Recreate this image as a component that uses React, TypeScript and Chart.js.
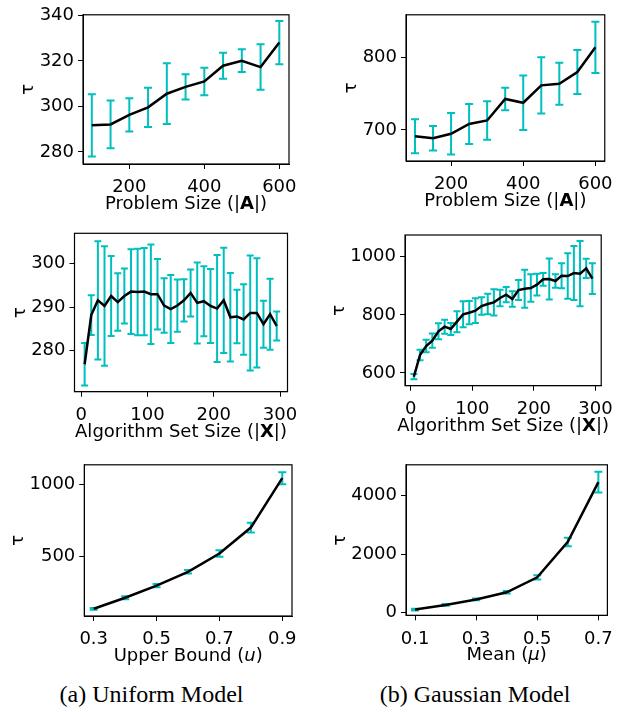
import React, { useEffect, useRef } from 'react';
import { Chart, registerables } from 'chart.js';

Chart.register(...registerables);

// ---------------- DATA ----------------
const problemSizes = [100, 150, 200, 250, 300, 350, 400, 450, 500, 550, 600];
const uniformSizeMean = [291.7, 292.1, 296.3, 299.6, 305.6, 308.6, 311.0, 317.9, 320.1, 317.3, 328.1];
const uniformSizeErr = [13.7, 10.5, 7.35, 8.6, 13.35, 5.55, 6.05, 5.75, 5.0, 10.0, 9.5];
const gaussSizeMean = [691.2, 688.6, 694.7, 708.3, 713.2, 743.0, 737.7, 761.8, 764.0, 780.3, 814.5];
const gaussSizeErr = [23.5, 16.9, 28.7, 27.85, 26.75, 15.55, 37.7, 39.0, 29.2, 30.5, 35.5];

const algoSetSizes = [5, 15, 25, 35, 45, 55, 65, 75, 85, 95, 105, 115, 125, 135, 145, 155, 165, 175, 185, 195, 205, 215, 225, 235, 245, 255, 265, 275, 285, 295];
const uniformAlgoMean = [276.9, 288.2, 291.6, 290.3, 292.6, 291.2, 292.6, 293.6, 293.5, 293.6, 293.0, 293.0, 290.4, 289.6, 290.4, 291.6, 293.3, 291.0, 291.4, 290.3, 289.7, 291.6, 287.7, 287.9, 287.2, 288.7, 288.7, 286.1, 288.4, 285.7];
const uniformAlgoErr = [4.9, 4.55, 13.6, 13.75, 9.2, 6.6, 6.3, 9.75, 9.95, 10.05, 11.45, 8.1, 6.25, 7.8, 6.0, 4.85, 5.4, 9.3, 8.05, 8.5, 12.3, 12.1, 10.15, 6.15, 8.1, 13.2, 12.55, 5.4, 8.15, 3.35];
const gaussAlgoMean = [587.4, 661.9, 692.8, 711.2, 743.3, 759.3, 751.3, 776.5, 801.7, 807.4, 814.3, 830.4, 837.3, 843.0, 857.9, 869.3, 854.4, 885.4, 890.0, 892.3, 903.7, 922.1, 923.2, 916.3, 934.7, 933.5, 943.8, 941.5, 959.9, 924.4];
const gaussAlgoErr = [9.2, 18.3, 21.2, 24.65, 27.5, 24.05, 20.6, 36.1, 44.7, 40.15, 42.4, 30.4, 35.55, 45.25, 28.65, 26.35, 26.4, 34.4, 65.35, 47.0, 37.25, 21.75, 70.5, 22.95, 42.95, 78.55, 92.85, 112.3, 33.25, 52.75];

const upperBounds = [0.3, 0.4, 0.5, 0.6, 0.7, 0.8, 0.9];
const uniformBoundMean = [134, 211, 295, 391, 518, 698, 1041];
const uniformBoundErr = [6, 11, 12, 12, 23, 34, 42];

const gaussMeans = [0.1, 0.2, 0.3, 0.4, 0.5, 0.6, 0.7];
const gaussMeanMean = [111, 267, 456, 700, 1211, 2422, 4467];
const gaussMeanErr = [30, 30, 30, 40, 72, 145, 355];

// tick labels
const sizeTicks = [200, 400, 600];
const algoTicks = [0, 100, 200, 300];
const boundTicks = [0.3, 0.5, 0.7, 0.9];
const meanTicks = [0.1, 0.3, 0.5, 0.7];
const uniformSizeYTicks = [280, 300, 320, 340];
const gaussSizeYTicks = [700, 800];
const uniformAlgoYTicks = [280, 290, 300];
const gaussAlgoYTicks = [600, 800, 1000];
const uniformBoundYTicks = [500, 1000];
const gaussMeanYTicks = [0, 2000, 4000];

const yLabel = 'τ';
const captionA = '(a) Uniform Model';
const captionB = '(b) Gaussian Model';

// ---------------- STYLE / LAYOUT ----------------
const FAMILY = "'DejaVu Sans', sans-serif";
const FS = 18;
const ERR_COLOR = '#00bfbf';
const TICK_LEN = 5;

type Seg = { t: string; s?: 'n' | 'b' | 'i' };
interface Panel {
  id: string;
  canvas: { x: number; y: number; w: number; h: number };
  area: { l: number; t: number; r: number; b: number };
  xs: number[];
  mean: number[];
  err: number[];
  xMin: number; xMax: number; yMin: number; yMax: number;
  xTicks: number[]; yTicks: number[];
  title: Seg[];
  yPad: number;
  cap: number;
}

const panels: Panel[] = [
  {
    id: 'p1', canvas: { x: 0, y: 0, w: 310, h: 215 }, area: { l: 83, t: 11, r: 289, b: 164 },
    xs: problemSizes, mean: uniformSizeMean, err: uniformSizeErr,
    xMin: 76.5, xMax: 625.8, yMin: 274.7, yMax: 340.3,
    xTicks: sizeTicks, yTicks: uniformSizeYTicks,
    title: [{ t: 'Problem Size (|' }, { t: 'A', s: 'b' }, { t: '|)' }], yPad: 4, cap: 4,
  },
  {
    id: 'p2', canvas: { x: 310, y: 0, w: 311, h: 215 }, area: { l: 406, t: 7, r: 612, b: 161 },
    xs: problemSizes, mean: gaussSizeMean, err: gaussSizeErr,
    xMin: 75.1, xMax: 626, yMin: 657, yMax: 859.6,
    xTicks: sizeTicks, yTicks: gaussSizeYTicks,
    title: [{ t: 'Problem Size (|' }, { t: 'A', s: 'b' }, { t: '|)' }], yPad: 4, cap: 4,
  },
  {
    id: 'p3', canvas: { x: 0, y: 215, w: 310, h: 235 }, area: { l: 74.5, t: 233.3, r: 287.5, b: 391.7 },
    xs: algoSetSizes, mean: uniformAlgoMean, err: uniformAlgoErr,
    xMin: -10.3, xMax: 311.3, yMin: 270.6, yMax: 307,
    xTicks: algoTicks, yTicks: uniformAlgoYTicks,
    title: [{ t: 'Algorithm Set Size (|' }, { t: 'X', s: 'b' }, { t: '|)' }], yPad: 4, cap: 3.5,
  },
  {
    id: 'p4', canvas: { x: 310, y: 215, w: 311, h: 235 }, area: { l: 405, t: 235, r: 607.7, b: 385.7 },
    xs: algoSetSizes, mean: gaussAlgoMean, err: gaussAlgoErr,
    xMin: -9.4, xMax: 309.4, yMin: 556.3, yMax: 1074.6,
    xTicks: algoTicks, yTicks: gaussAlgoYTicks,
    title: [{ t: 'Algorithm Set Size (|' }, { t: 'X', s: 'b' }, { t: '|)' }], yPad: 4, cap: 3.5,
  },
  {
    id: 'p5', canvas: { x: 0, y: 450, w: 310, h: 222 }, area: { l: 84.3, t: 462, r: 292, b: 616 },
    xs: upperBounds, mean: uniformBoundMean, err: uniformBoundErr,
    xMin: 0.27, xMax: 0.931, yMin: 84, yMax: 1134,
    xTicks: boundTicks, yTicks: uniformBoundYTicks,
    title: [{ t: 'Upper Bound (' }, { t: 'u', s: 'i' }, { t: ')' }], yPad: 4, cap: 4,
  },
  {
    id: 'p6', canvas: { x: 310, y: 450, w: 311, h: 222 }, area: { l: 406, t: 461, r: 614, b: 615.3 },
    xs: gaussMeans, mean: gaussMeanMean, err: gaussMeanErr,
    xMin: 0.0705, xMax: 0.7295, yMin: -87, yMax: 5057,
    xTicks: meanTicks, yTicks: gaussMeanYTicks,
    title: [{ t: 'Mean (' }, { t: 'μ', s: 'i' }, { t: ')' }], yPad: 4, cap: 4,
  },
];

const fmt = (v: number) => String(v);

function fontFor(s?: 'n' | 'b' | 'i') {
  if (s === 'b') return `bold ${FS}px ${FAMILY}`;
  if (s === 'i') return `italic ${FS}px ${FAMILY}`;
  return `${FS}px ${FAMILY}`;
}

function makeChart(canvas: HTMLCanvasElement, p: Panel) {
  const c = p.canvas;
  const a = p.area;
  const padTop = a.t - c.y;
  const padRight = c.x + c.w - a.r;
  const yW = a.l - c.x;
  const xH = c.y + c.h - a.b;

  const deco = {
    id: 'deco_' + p.id,
    beforeDatasetsDraw(chart: any) {
      const { ctx } = chart;
      const xs = chart.scales.x;
      const ys = chart.scales.y;
      ctx.save();
      ctx.strokeStyle = ERR_COLOR;
      ctx.lineWidth = 2;
      ctx.lineCap = 'butt';
      p.xs.forEach((xv, i) => {
        const px = xs.getPixelForValue(xv);
        const top = ys.getPixelForValue(p.mean[i] + p.err[i]);
        const bot = ys.getPixelForValue(p.mean[i] - p.err[i]);
        ctx.beginPath();
        ctx.moveTo(px, top);
        ctx.lineTo(px, bot);
        ctx.moveTo(px - p.cap, top);
        ctx.lineTo(px + p.cap, top);
        ctx.moveTo(px - p.cap, bot);
        ctx.lineTo(px + p.cap, bot);
        ctx.stroke();
      });
      ctx.restore();
    },
    afterDraw(chart: any) {
      const { ctx, chartArea: ca } = chart;
      ctx.save();
      ctx.strokeStyle = '#000';
      ctx.lineWidth = 1.2;
      ctx.strokeRect(ca.left, ca.top, ca.right - ca.left, ca.bottom - ca.top);

      // x-axis title with mixed fonts
      ctx.fillStyle = '#000';
      ctx.textBaseline = 'alphabetic';
      ctx.textAlign = 'left';
      const widths = p.title.map((s) => {
        ctx.font = fontFor(s.s);
        return ctx.measureText(s.t).width;
      });
      const total = widths.reduce((m, w) => m + w, 0);
      let x0 = (ca.left + ca.right) / 2 - total / 2;
      const yb = ca.bottom + 45;
      p.title.forEach((s, i) => {
        ctx.font = fontFor(s.s);
        ctx.fillText(s.t, x0, yb);
        x0 += widths[i];
      });

      // y-axis label
      ctx.font = fontFor('n');
      const maxW = Math.max(...p.yTicks.map((v) => ctx.measureText(fmt(v)).width));
      const labelLeft = ca.left - TICK_LEN - p.yPad - maxW;
      const cx = labelLeft - 11.5;
      ctx.translate(cx + 4.9, (ca.top + ca.bottom) / 2);
      ctx.rotate(-Math.PI / 2);
      ctx.textAlign = 'center';
      ctx.fillText(yLabel, 0, 0);
      ctx.restore();
    },
  };

  const tickFont = { family: FAMILY, size: FS };

  return new Chart(canvas, {
    type: 'line',
    data: {
      datasets: [
        {
          data: p.xs.map((x, i) => ({ x, y: p.mean[i] })),
          borderColor: '#000',
          borderWidth: 2.5,
          pointRadius: 0,
          tension: 0,
          fill: false,
        },
      ],
    },
    options: {
      animation: false,
      responsive: false,
      maintainAspectRatio: false,
      events: [],
      layout: { padding: { top: padTop, right: padRight, left: 0, bottom: 0 } },
      plugins: { legend: { display: false }, tooltip: { enabled: false } },
      scales: {
        x: {
          type: 'linear',
          min: p.xMin,
          max: p.xMax,
          afterBuildTicks: (s: any) => {
            s.ticks = p.xTicks.map((v) => ({ value: v }));
          },
          afterFit: (s: any) => {
            s.height = xH;
          },
          ticks: {
            autoSkip: false,
            maxRotation: 0,
            minRotation: 0,
            color: '#000',
            font: tickFont,
            padding: 8,
            callback: (v: any) => fmt(Number(v)),
          },
          grid: { drawOnChartArea: false, drawTicks: true, tickLength: TICK_LEN, color: '#000', lineWidth: 1 },
          border: { display: true, color: '#000', width: 1 },
        },
        y: {
          type: 'linear',
          min: p.yMin,
          max: p.yMax,
          afterBuildTicks: (s: any) => {
            s.ticks = p.yTicks.map((v) => ({ value: v }));
          },
          afterFit: (s: any) => {
            s.width = yW;
          },
          ticks: {
            autoSkip: false,
            color: '#000',
            font: tickFont,
            padding: p.yPad,
            callback: (v: any) => fmt(Number(v)),
          },
          grid: { drawOnChartArea: false, drawTicks: true, tickLength: TICK_LEN, color: '#000', lineWidth: 1 },
          border: { display: true, color: '#000', width: 1 },
        },
      },
    },
    plugins: [deco],
  } as any);
}

function PanelCanvas({ p }: { p: Panel }) {
  const ref = useRef<HTMLCanvasElement | null>(null);
  useEffect(() => {
    if (!ref.current) return;
    const chart = makeChart(ref.current, p);
    return () => chart.destroy();
  }, [p]);
  return (
    <canvas
      ref={ref}
      width={p.canvas.w}
      height={p.canvas.h}
      style={{ position: 'absolute', left: p.canvas.x, top: p.canvas.y, width: p.canvas.w, height: p.canvas.h }}
    />
  );
}

export default function App() {
  const capStyle: React.CSSProperties = {
    position: 'absolute',
    width: 300,
    textAlign: 'center',
    fontFamily: "'Liberation Serif', 'Times New Roman', serif",
    fontSize: 24,
    lineHeight: '24px',
    top: 682,
    color: '#000',
    whiteSpace: 'nowrap',
  };
  return (
    <div style={{ position: 'absolute', left: 0, top: 0, width: 621, height: 712, background: '#fff', overflow: 'hidden' }}>
      {panels.map((p) => (
        <PanelCanvas key={p.id} p={p} />
      ))}
      <div style={{ ...capStyle, left: 151.5 - 150 }}>{captionA}</div>
      <div style={{ ...capStyle, left: 475 - 150 }}>{captionB}</div>
    </div>
  );
}
